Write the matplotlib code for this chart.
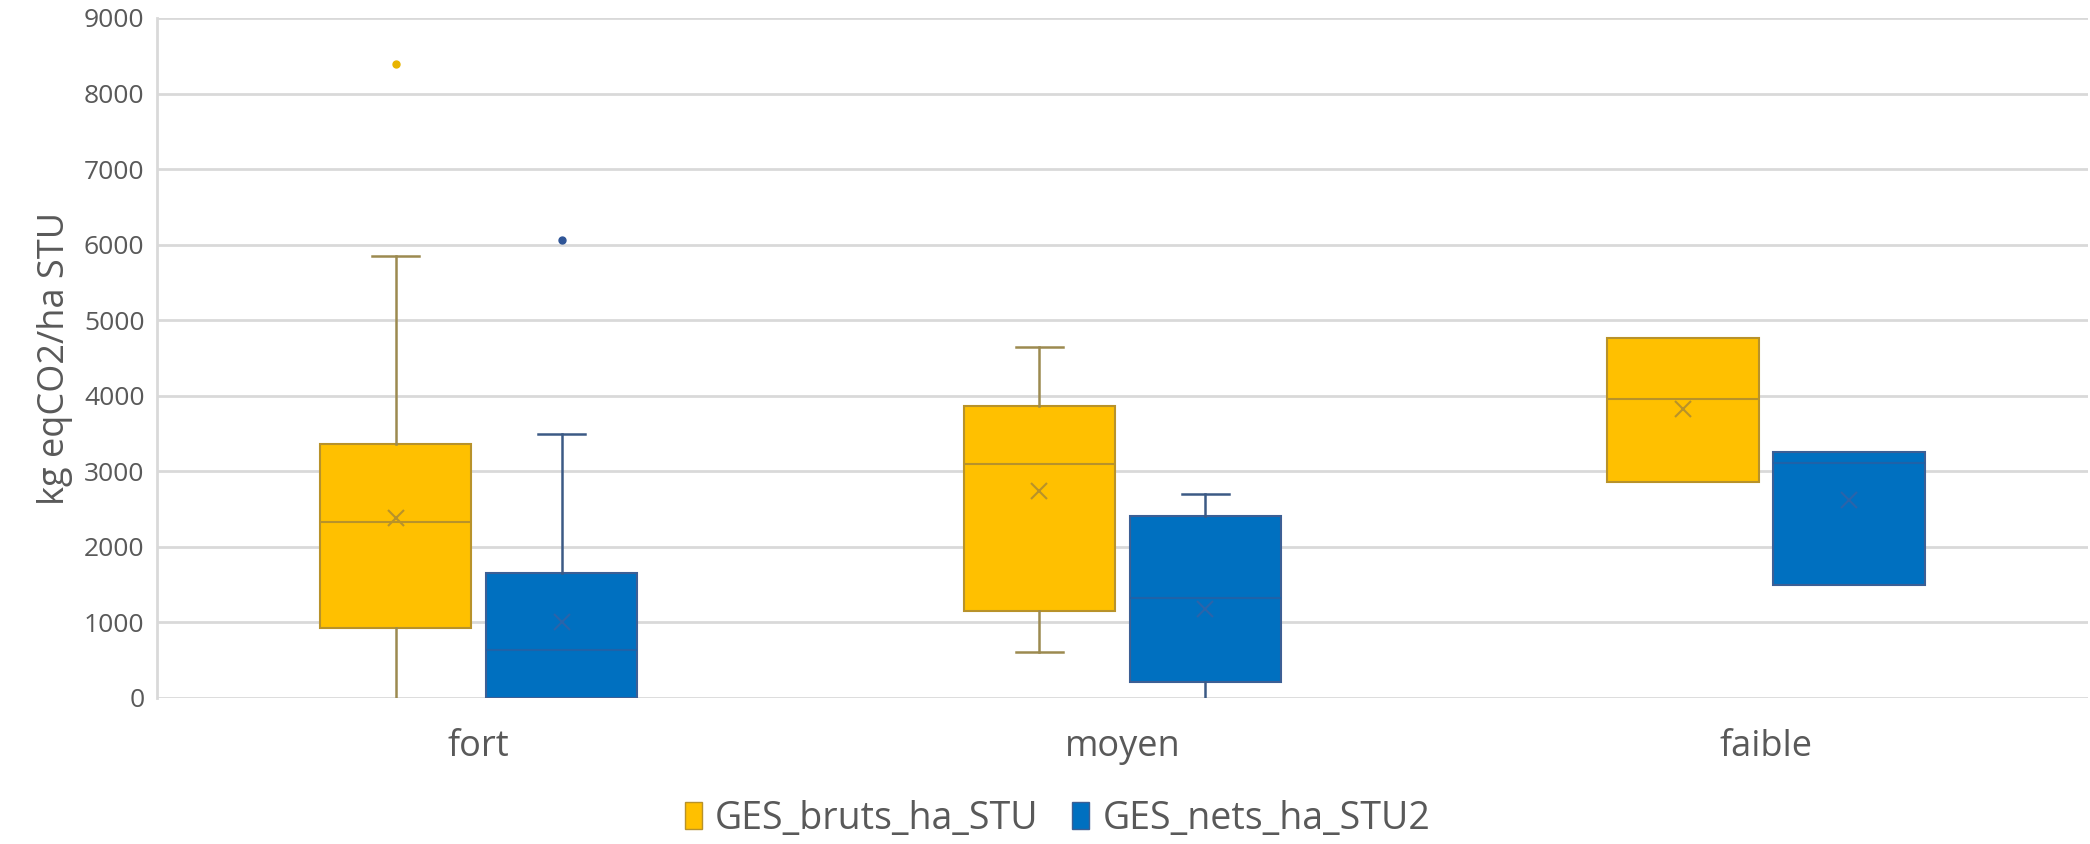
import matplotlib.pyplot as plt
from matplotlib.patches import Patch

# summary stats per soil class (kg eqCO2 / ha STU)
categories = ['fort', 'moyen', 'faible']
series = ['GES_bruts_ha_STU', 'GES_nets_ha_STU2']

bruts_whislo = [0, 605, 2856]
bruts_q1 = [925, 1155, 2856]
bruts_med = [2335, 3098, 3951]
bruts_q3 = [3365, 3860, 4768]
bruts_whishi = [5850, 4650, 4768]
bruts_mean = [2380, 2745, 3820]
bruts_fliers = [[8390], [], []]

nets_whislo = [0, 0, 1500]
nets_q1 = [0, 207, 1500]
nets_med = [640, 1324, 3113]
nets_q3 = [1648, 2414, 3262]
nets_whishi = [3500, 2702, 3262]
nets_mean = [1000, 1180, 2626]
nets_fliers = [[6060], [], []]

yellow = '#FFC000'
blue = '#0070C0'
text_col = '#595959'
grid_col = '#D9D9D9'

plt.rcParams['font.family'] = ['Open Sans', 'DejaVu Sans']

fig = plt.figure(figsize=(20.9, 8.44), dpi=100)
ax = fig.add_axes([0.0751, 0.173, 0.9239, 0.8057])


def make_stats(lo, q1, med, q3, hi, mean, fliers):
    return [dict(whislo=a, q1=b, med=c, q3=d, whishi=e, mean=f, fliers=g)
            for a, b, c, d, e, f, g in zip(lo, q1, med, q3, hi, mean, fliers)]


def draw(stats, positions, face, edge, whisk, medc, meanc, flierc):
    bp = ax.bxp(stats, positions=positions, widths=0.235, patch_artist=True,
                showmeans=True, capwidths=0.073,
                boxprops=dict(facecolor=face, edgecolor=edge, linewidth=1.5),
                whiskerprops=dict(color=whisk, linewidth=1.8),
                capprops=dict(color=whisk, linewidth=1.8),
                medianprops=dict(color=medc, linewidth=1.5),
                meanprops=dict(marker='x', markeredgecolor=meanc,
                               markersize=11, markeredgewidth=1.5),
                flierprops=dict(marker='o', markerfacecolor=flierc,
                                markeredgecolor=flierc, markersize=5),
                zorder=3)
    # drop caps that sit on the box edge or on the zero line
    for i, st in enumerate(stats):
        if st['whislo'] == st['q1'] or st['whislo'] == 0:
            bp['caps'][2 * i].set_visible(False)
        if st['whishi'] == st['q3']:
            bp['caps'][2 * i + 1].set_visible(False)


pos = list(range(len(categories)))
off = 0.129
draw(make_stats(bruts_whislo, bruts_q1, bruts_med, bruts_q3, bruts_whishi,
                bruts_mean, bruts_fliers),
     [p - off for p in pos], yellow, '#B8922A', '#9C8A50', '#B8922A',
     '#B8922A', '#E8B400')
draw(make_stats(nets_whislo, nets_q1, nets_med, nets_q3, nets_whishi,
                nets_mean, nets_fliers),
     [p + off for p in pos], blue, '#3C5F95', '#3C5A85', '#1F62A8',
     '#2B64AA', '#2F5597')

ax.set_xlim(-0.5, 2.5)
ax.set_ylim(0, 9000)
ax.set_yticks(range(0, 9001, 1000))
ax.set_xticks(pos)
ax.set_xticklabels(categories, fontsize=26, color=text_col)
ax.tick_params(axis='y', labelsize=19, labelcolor=text_col, length=0, pad=9)
ax.tick_params(axis='x', length=0, pad=22)
ax.yaxis.grid(True, color=grid_col, linewidth=2)
ax.set_axisbelow(True)
for s in ['top', 'right', 'bottom']:
    ax.spines[s].set_visible(False)
ax.spines['left'].set_color(grid_col)
ax.spines['left'].set_linewidth(2)
ax.set_ylabel('kg eqCO2/ha STU', fontsize=26, color=text_col, labelpad=8)

handles = [Patch(facecolor=yellow, edgecolor='#B8922A'),
           Patch(facecolor=blue, edgecolor='#3C5F95')]
fig.legend(handles, series, loc='center', bbox_to_anchor=(0.506, 0.03),
           ncol=2, frameon=False, fontsize=27, labelcolor=text_col,
           handlelength=0.45, handleheight=0.7, handletextpad=0.35,
           columnspacing=0.9)

fig.savefig('out.png', dpi=100)
